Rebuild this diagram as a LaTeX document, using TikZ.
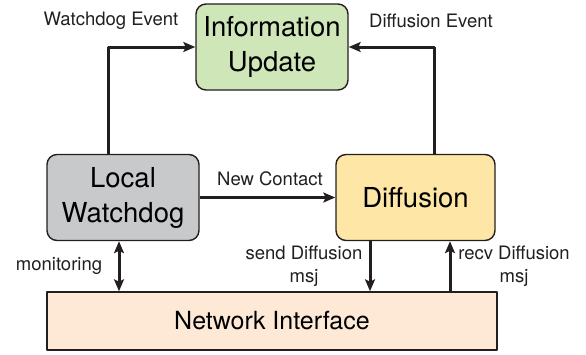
\documentclass[tikz,border=0pt]{standalone}
\usepackage{fontspec}
\setmainfont{TeX Gyre Heros}
\usetikzlibrary{arrows.meta,positioning}
\definecolor{ink}{HTML}{231F20}
\definecolor{infogreen}{HTML}{CFE6B9}
\definecolor{dogray}{HTML}{C8C9CB}
\definecolor{diffyellow}{HTML}{FEE6A7}
\definecolor{netpeach}{HTML}{FDE9D5}
\begin{document}
\begin{tikzpicture}[x=1pt, y=-1pt, line join=round, >={Stealth[length=12pt,width=10pt,inset=2.5pt]},
		block/.style={draw=ink, line width=1.4pt, rounded corners=10pt, align=center, inner sep=0pt, font=\fontsize{27.5}{35}\selectfont},
		flow/.style={draw=ink, line width=3pt},
		lbl/.style={text=ink, align=center, inner sep=0pt, font=\fontsize{18.5}{23}\selectfont}]
	\useasboundingbox (0,0) rectangle (586,354);
	% the four blocks
	\node[block, fill=infogreen, minimum width=152pt, minimum height=86pt] (info) at (272,47) {Information\\Update};
	\node[block, fill=dogray, minimum width=152pt, minimum height=86pt] (wd) at (123,197.5) {Local\\Watchdog};
	\node[block, fill=diffyellow, minimum width=159pt, minimum height=86pt] (dif) at (415.5,197.5) {Diffusion};
	\node[block, fill=netpeach, rounded corners=0pt, minimum width=450pt, minimum height=58pt, font=\fontsize{25}{30}\selectfont] (net) at (272,321) {Network Interface};
	% events going up
	\draw[flow, ->] ([xshift=-15pt]wd.north) |- (info.west);
	\draw[flow, ->] ([xshift=19pt]dif.north) |- (info.east);
	\draw[flow, ->] (wd.east) -- (dif.west);
	% links to the network interface
	\draw[flow, <->] ([xshift=-4pt]wd.south) -- ([xshift=-4pt]wd.south |- net.north);
	\draw[flow, ->] ([xshift=-45.5pt]dif.south) -- ([xshift=-45.5pt]dif.south |- net.north);
	\draw[flow, <-] ([xshift=34.5pt]dif.south) -- ([xshift=34.5pt]dif.south |- net.north);
	% labels
	\node[lbl] (wdev) at (111,21) {Watchdog Event};
	\node[lbl] (difev) at (431,21) {Diffusion Event};
	\node[lbl] (contact) at (270,179) {New Contact};
	\node[lbl] (mon) at (59,266) {monitoring};
	\node[lbl] (send) at (304,266) {send Diffusion\\msj};
	\node[lbl] (recv) at (514,266) {recv Diffusion\\msj};
\end{tikzpicture}
\end{document}
